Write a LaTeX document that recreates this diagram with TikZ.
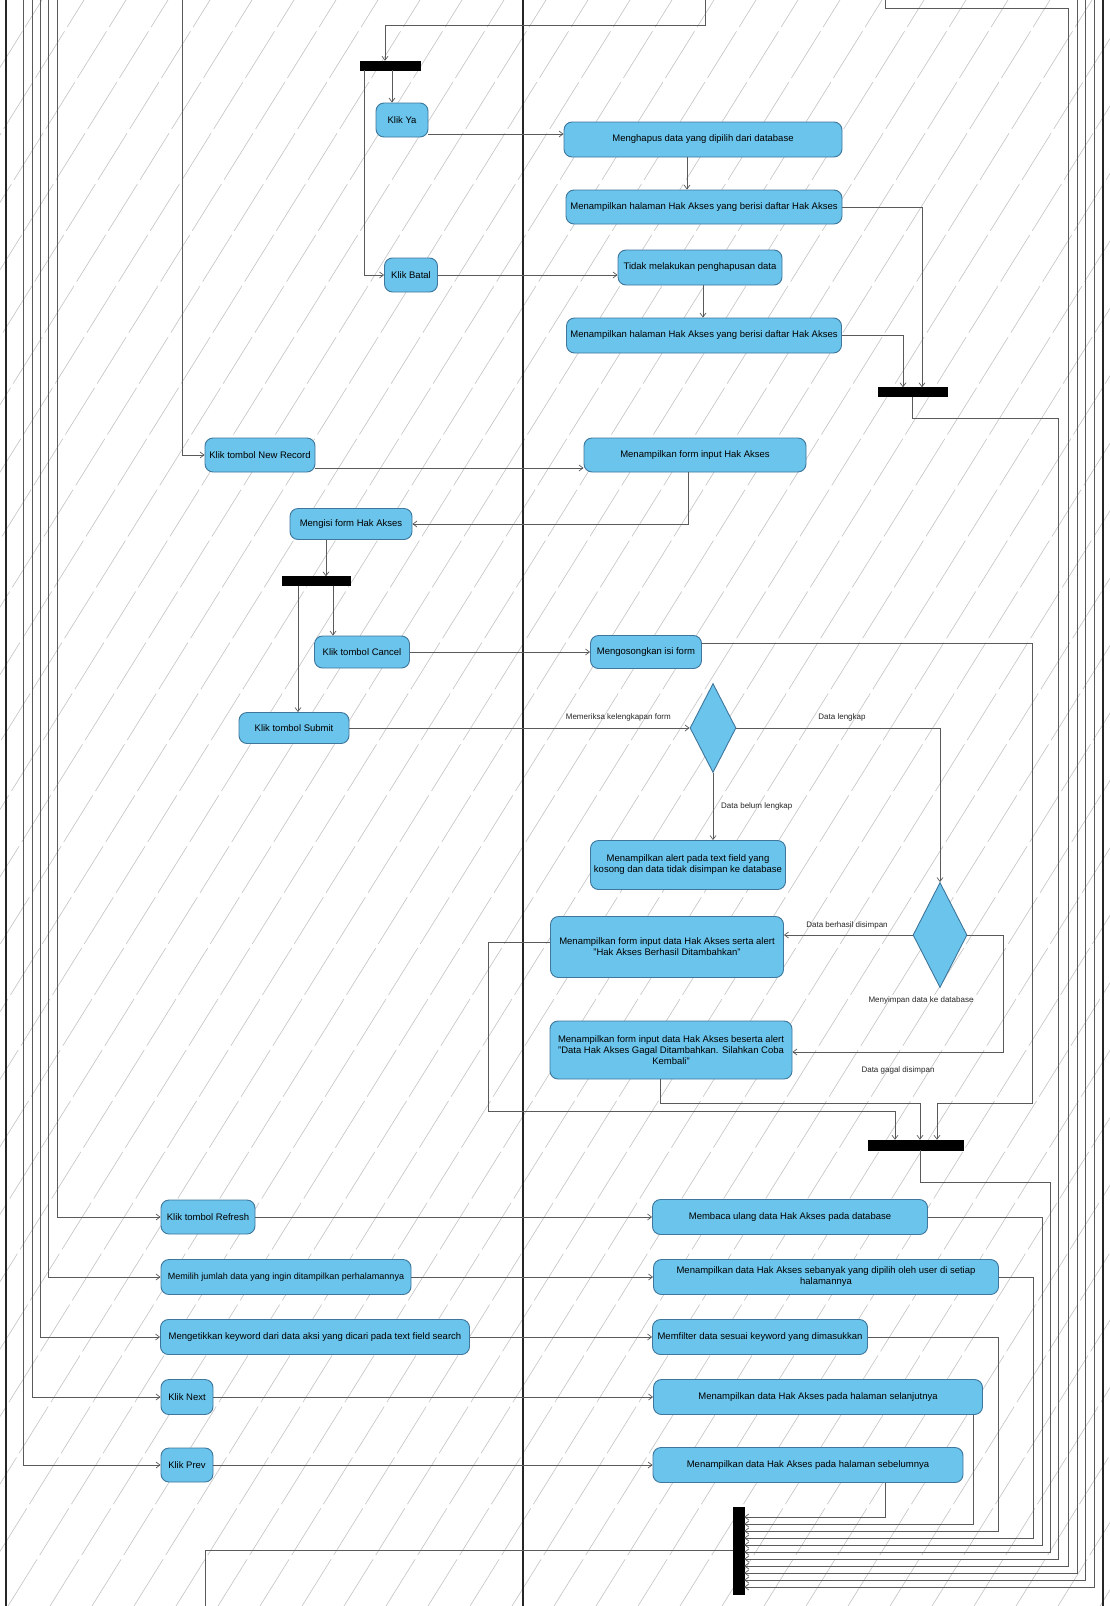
\documentclass[tikz,border=0pt]{standalone}
\usepackage{fontspec}
\setmainfont{Liberation Sans}
\usetikzlibrary{arrows.meta,shapes.geometric,calc}
\definecolor{actfill}{RGB}{106,196,236}
\definecolor{actdraw}{RGB}{62,118,156}
\definecolor{flowc}{RGB}{90,90,90}
\definecolor{wmark}{RGB}{195,195,195}
\begin{document}
\begin{tikzpicture}[x=1pt,y=-1pt,
  act/.style={draw=actdraw, fill=actfill, rounded corners=8pt, line width=0.9pt, inner sep=1pt, align=center, font=\fontsize{9.5}{11}\selectfont},
  dec/.style={diamond, draw=actdraw, fill=actfill, line width=0.9pt, inner sep=0pt},
  barnode/.style={fill=black, draw=black, inner sep=0pt},
  flow/.style={draw=flowc, line width=0.7pt, -{Straight Barb[length=4pt,width=6pt]}},
  plainflow/.style={draw=flowc, line width=0.7pt},
  lane/.style={draw=black!85, line width=1.4pt},
  lbl/.style={font=\fontsize{8}{9}\selectfont, inner sep=1pt, text=black!85}]
\useasboundingbox (0,0) rectangle (1110,1606);
\fill[white] (0,0) rectangle (1110,1606);
% watermark
\begin{scope}
\clip (0,0) rectangle (1110,1606);
\foreach \i in {-1000,-958,...,1150}
  \draw[wmark, line width=0.6pt, dash pattern=on 55pt off 5pt] (\i,1606) -- ({\i+1000},0);
\end{scope}
% swimlanes
\draw[lane] (6,0) -- (6,1606);
\draw[lane] (523,0) -- (523,1606);
\draw[lane, line width=1.8pt] (1103,0) -- (1103,1606);
% nodes
\node[barnode, minimum width=60pt, minimum height=9pt] (f1) at (390,65.5) {};
\node[act, minimum width=52pt, minimum height=34pt] (ya) at (402,120) {Klik Ya};
\node[act, minimum width=53pt, minimum height=34pt] (batal) at (411,275) {Klik Batal};
\node[act, minimum width=278pt, minimum height=35pt] (hapus) at (703,139.5) {Menghapus data yang dipilih dari database};
\node[act, minimum width=276pt, minimum height=34pt] (tampil1) at (704,207) {Menampilkan halaman Hak Akses yang berisi daftar Hak Akses};
\node[act, minimum width=164pt, minimum height=35pt] (tidak) at (700,267.5) {Tidak melakukan penghapusan data};
\node[act, minimum width=275pt, minimum height=35pt] (tampil2) at (704,335.5) {Menampilkan halaman Hak Akses yang berisi daftar Hak Akses};
\node[barnode, minimum width=69pt, minimum height=9pt] (j1) at (912.5,392) {};
\node[act, minimum width=110pt, minimum height=34pt] (newrec) at (260,455) {Klik tombol New Record};
\node[act, minimum width=222pt, minimum height=34pt] (forminput) at (695,455) {Menampilkan form input Hak Akses};
\node[act, minimum width=122pt, minimum height=31pt] (isi) at (351,524) {Mengisi form Hak Akses};
\node[barnode, minimum width=68pt, minimum height=9pt] (f2) at (316,581) {};
\node[act, minimum width=95pt, minimum height=32pt] (cancel) at (362,652) {Klik tombol Cancel};
\node[act, minimum width=110pt, minimum height=31pt] (submit) at (294,728) {Klik tombol Submit};
\node[act, minimum width=111pt, minimum height=33pt] (kosong) at (646,652) {Mengosongkan isi form};
\node[dec, minimum width=46pt, minimum height=89pt] (d1) at (713,728) {};
\node[act, minimum width=195pt, minimum height=49pt] (alert) at (688,865) {Menampilkan alert pada text field yang\\kosong dan data tidak disimpan ke database};
\node[dec, minimum width=54pt, minimum height=105pt] (d2) at (940,935) {};
\node[act, minimum width=233pt, minimum height=61pt] (berhasil) at (667,947) {Menampilkan form input data Hak Akses serta alert\\"Hak Akses Berhasil Ditambahkan"};
\node[act, minimum width=242pt, minimum height=58pt] (gagal) at (671,1050) {Menampilkan form input data Hak Akses beserta alert\\"Data Hak Akses Gagal Ditambahkan. Silahkan Coba\\Kembali"};
\node[barnode, minimum width=95pt, minimum height=10pt] (j2) at (916,1145) {};
\node[act, minimum width=94pt, minimum height=34pt] (refresh) at (208,1217) {Klik tombol Refresh};
\node[act, minimum width=250pt, minimum height=35pt, font=\fontsize{9}{10.5}\selectfont] (memilih) at (286,1277) {Memilih jumlah data yang ingin ditampilkan perhalamannya};
\node[act, minimum width=309pt, minimum height=35pt] (ketik) at (315,1337) {Mengetikkan keyword dari data aksi yang dicari pada text field search};
\node[act, minimum width=52pt, minimum height=35pt] (next) at (187,1397) {Klik Next};
\node[act, minimum width=52pt, minimum height=34pt] (prev) at (187,1465) {Klik Prev};
\node[act, minimum width=275pt, minimum height=35pt] (baca) at (790,1217) {Membaca ulang data Hak Akses pada database};
\node[act, minimum width=345pt, minimum height=35pt] (sebanyak) at (826,1277) {Menampilkan data Hak Akses sebanyak yang dipilih oleh user di setiap\\halamannya};
\node[act, minimum width=215pt, minimum height=35pt] (filter) at (760,1337) {Memfilter data sesuai keyword yang dimasukkan};
\node[act, minimum width=329pt, minimum height=35pt] (selanjut) at (818,1397) {Menampilkan data Hak Akses pada halaman selanjutnya};
\node[act, minimum width=310pt, minimum height=35pt] (sebelum) at (808,1465) {Menampilkan data Hak Akses pada halaman sebelumnya};
\node[barnode, minimum width=11pt, minimum height=87pt] (j3) at (738.5,1551) {};
% free ends
\coordinate (t1) at (705,0);
\coordinate (t2) at (182,0);
\coordinate (t3) at (885,0);
\coordinate (t4) at (1077,0);
\coordinate (t5) at (1085,0);
\coordinate (t6) at (1094,0);
\coordinate (la) at (57,0);
\coordinate (lb) at (48,0);
\coordinate (lc) at (40,0);
\coordinate (ld) at (32,0);
\coordinate (le) at (23,0);
\coordinate (bo) at (205,1606);
% connectors: delete branch
\draw[flow] (t1) |- (385,25) -- (f1.north -| 385,0);
\draw[flow] (f1.south -| 392,0) -- (ya.north -| 392,0);
\draw[flow] (f1.south -| 364,0) |- (batal.west);
\draw[flow] (ya.east |- 0,134) -- (hapus.west |- 0,134);
\draw[flow] (hapus.south -| 687,0) -- (tampil1.north -| 687,0);
\draw[flow] (batal.east) -- (tidak.west |- batal.east);
\draw[flow] (tidak.south -| 703,0) -- (tampil2.north -| 703,0);
\draw[flow] (tampil1.east) -| (j1.north -| 922,0);
\draw[flow] (tampil2.east) -| (j1.north -| 903,0);
\draw[flow] (j1.south) |- (1058,418) |- (j3.east |- 0,1559);
% new record branch
\draw[flow] (t2) |- (newrec.west);
\draw[flow] (newrec.east |- 0,468) -- (forminput.west |- 0,468);
\draw[flow] (forminput.south -| 688,0) |- (isi.east);
\draw[flow] (isi.south -| 326,0) -- (f2.north -| 326,0);
\draw[flow] (f2.south -| 333,0) -- (cancel.north -| 333,0);
\draw[flow] (f2.south -| 298,0) -- (submit.north -| 298,0);
\draw[flow] (cancel.east) -- (kosong.west);
\draw[flow] (kosong.east |- 0,643) -| (1032,1103) -| (j2.north -| 937,0);
\draw[flow] (submit.east) -- (d1.west);
\draw[flow] (d1.east) -| (d2.north);
\draw[flow] (d1.south) -- (d1.south |- alert.north);
\draw[flow] (d2.west) -- (d2.west -| berhasil.east);
\draw[flow] (d2.east) -| (1003,1052) -- (gagal.east |- 0,1052);
\draw[flow] (berhasil.west |- 0,942) -| (488,1111) -| (j2.north -| 895,0);
\draw[flow] (gagal.south -| 660,0) |- (920,1103) -- (j2.north -| 920,0);
\draw[flow] (j2.south -| 920,0) |- (1050,1182) |- (j3.east |- 0,1552);
% edge labels
\node[lbl, anchor=east] (lmemeriksa) at (672,717) {Memeriksa kelengkapan form};
\node[lbl] (llengkap) at (842,717) {Data lengkap};
\node[lbl, anchor=west] (lbelum) at (720,806) {Data belum lengkap};
\node[lbl] (lberhasil) at (847,925) {Data berhasil disimpan};
\node[lbl] (lsimpan) at (921,1000) {Menyimpan data ke database};
\node[lbl] (lgagal) at (898,1070) {Data gagal disimpan};
% bottom rows
\draw[flow] (la) |- (refresh.west);
\draw[flow] (lb) |- (memilih.west);
\draw[flow] (lc) |- (ketik.west);
\draw[flow] (ld) |- (next.west);
\draw[flow] (le) |- (prev.west);
\draw[flow] (refresh.east) -- (baca.west);
\draw[flow] (memilih.east) -- (sebanyak.west);
\draw[flow] (ketik.east) -- (filter.west);
\draw[flow] (next.east) -- (selanjut.west);
\draw[flow] (prev.east) -- (sebelum.west);
\draw[flow] (baca.east) -| (1042,1545) -- (j3.east |- 0,1545);
\draw[flow] (sebanyak.east) -| (1033,1538) -- (j3.east |- 0,1538);
\draw[flow] (filter.east) -| (998,1531) -- (j3.east |- 0,1531);
\draw[flow] (selanjut.south -| 973,0) |- (j3.east |- 0,1524);
\draw[flow] (sebelum.south -| 885,0) |- (j3.east |- 0,1517);
\draw[flow] (t3) |- (1068,8) |- (j3.east |- 0,1566);
\draw[flow] (t4) |- (j3.east |- 0,1573);
\draw[flow] (t5) |- (j3.east |- 0,1580);
\draw[flow] (t6) |- (j3.east |- 0,1587);
\draw[plainflow] (j3.west |- 0,1550) -| (bo);
\end{tikzpicture}
\end{document}
